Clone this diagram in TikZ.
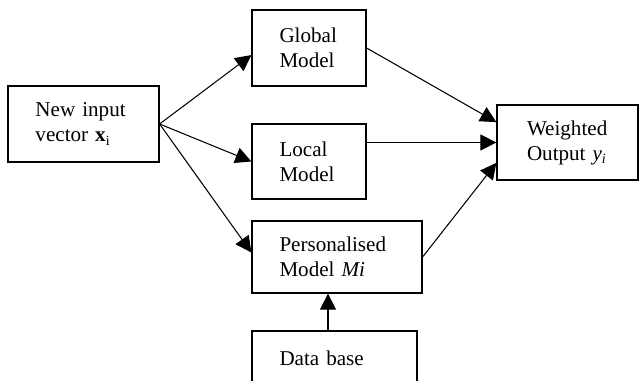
\documentclass[tikz,border=0pt]{standalone}
\usepackage{fontspec}
\setmainfont{Liberation Serif}
\usepackage{tikz}
\usetikzlibrary{arrows.meta,positioning,calc}
\tikzset{
  modelbox/.style={
    draw=black,
    line width=0.7pt,
    inner xsep=0.55cm,
    inner ysep=0pt,
    align=left,
    font=\fontsize{12}{14.2}\selectfont
  },
  arrow/.style={
    -{Triangle[length=3.2mm,width=3.2mm]},
    line width=0.6pt,
    draw=black
  }
}

\begin{document}
\begin{tikzpicture}
\useasboundingbox (0,0) rectangle (12.78,-7.62);
\clip (0,0) rectangle (12.78,-7.62);
\node[modelbox, text width=1.92cm, minimum width=3.02cm, minimum height=1.52cm] (newinput) at (1.67,-2.48) {New input\\vector \textbf{x}\textsubscript{i}};
\node[modelbox, text width=1.18cm, minimum width=2.28cm, minimum height=1.52cm] (global) at (6.18,-0.96) {Global\\Model};
\node[modelbox, text width=1.18cm, minimum width=2.28cm, minimum height=1.5cm] (local) at (6.18,-3.23) {Local\\Model};
\node[modelbox, text width=2.3cm, minimum width=3.4cm, minimum height=1.44cm] (personal) at (6.74,-5.14) {Personalised\\Model \textit{Mi}};
\node[modelbox, text width=2.2cm, minimum width=3.3cm, minimum height=1.08cm] (database) at (6.69,-7.16) {Data base};
\node[modelbox, inner xsep=0.6cm, text width=1.62cm, minimum width=2.82cm, minimum height=1.5cm] (weighted) at (11.35,-2.85) {Weighted\\Output \textit{y}\textsubscript{\textit{i}}};

% input to the three models
\draw[arrow] (newinput.east) -- (global.187);
\draw[arrow] (newinput.east) -- (local.west);
\draw[arrow] (newinput.east) -- (personal.177);
% models to the output
\draw[arrow] (global.east) -- (weighted.164);
\draw[arrow] (local.east |- weighted.west) -- (weighted.west);
\draw[arrow] (personal.east) -- (weighted.196);
\draw[arrow] ([xshift=-0.13cm]database.north) -- ([xshift=-0.13cm]database.north |- personal.south);
\end{tikzpicture}
\end{document}
